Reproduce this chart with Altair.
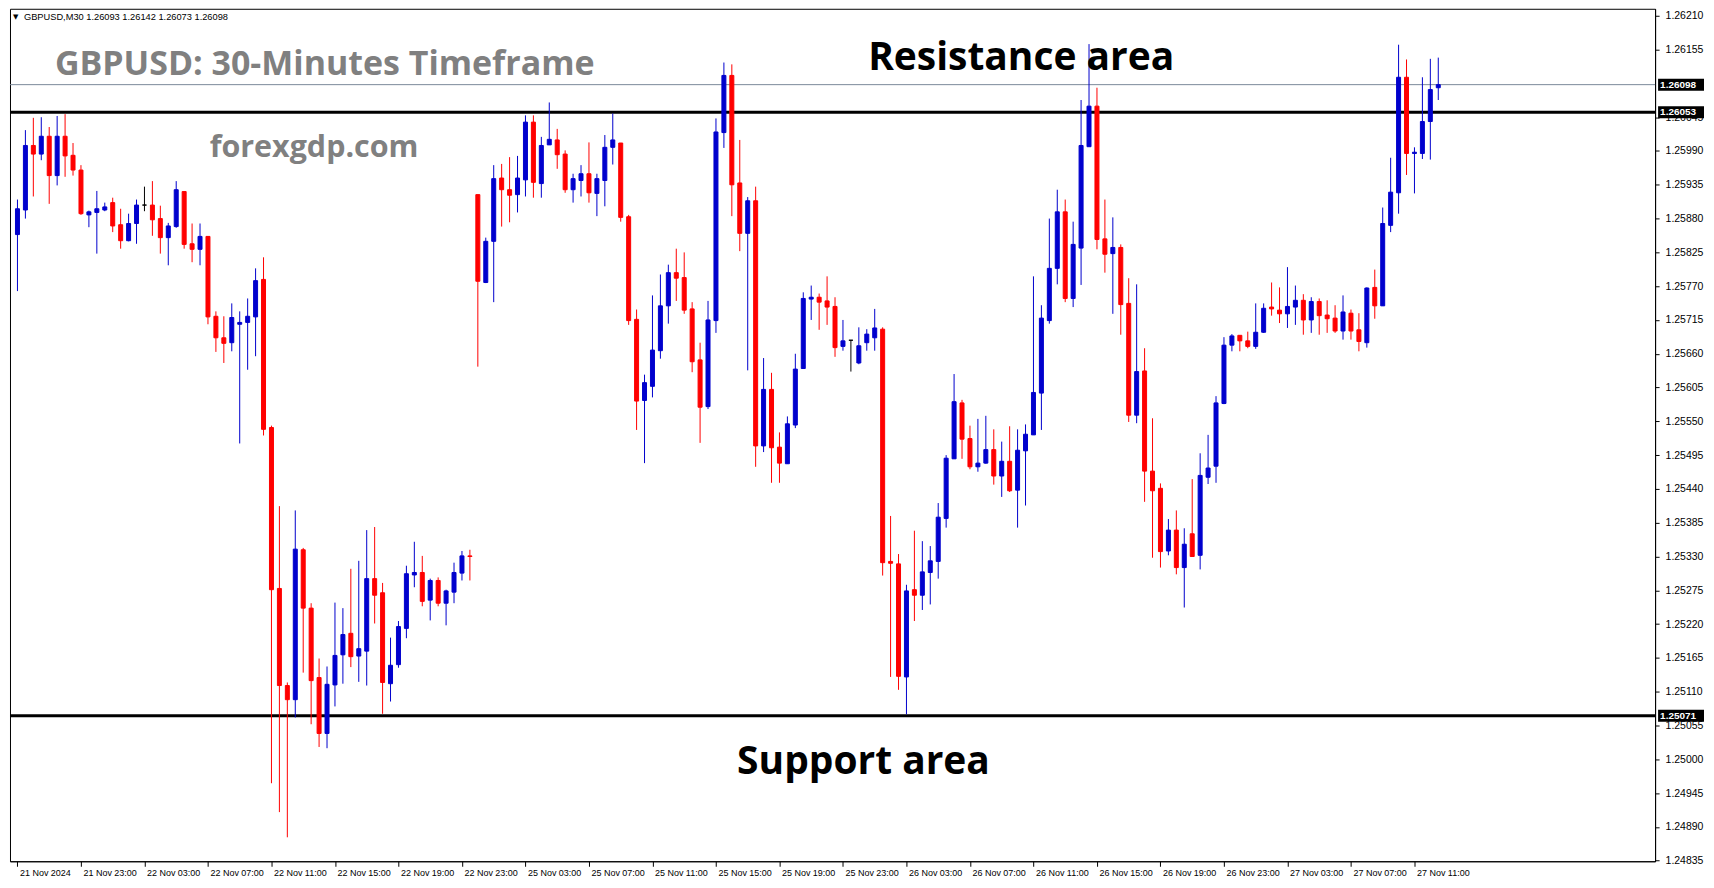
import altair as alt
import pandas as pd

# ---------------- data ----------------
opens = [
    1.25854, 1.25894, 1.25999, 1.25985, 1.26014, 1.25950, 1.26014, 1.25983, 1.25959, 1.25886,
    1.25890, 1.25894, 1.25906, 1.25870, 1.25844, 1.25872, 1.25902, 1.25902, 1.25880, 1.25849,
    1.25867, 1.25924, 1.25839, 1.25830, 1.25851, 1.25721, 1.25686, 1.25678, 1.25708, 1.25711,
    1.25720, 1.25781, 1.25540, 1.25278, 1.25120, 1.25097, 1.25341, 1.25246, 1.25133, 1.25042,
    1.25121, 1.25170, 1.25205, 1.25168, 1.25176, 1.25294, 1.25271, 1.25123, 1.25154, 1.25213,
    1.25300, 1.25304, 1.25259, 1.25291, 1.25254, 1.25272, 1.25303, 1.25331, 1.25919, 1.25776,
    1.25843, 1.25946, 1.25927, 1.25919, 1.25943, 1.26037, 1.25937, 1.26000, 1.26008, 1.25985,
    1.25927, 1.25942, 1.25953, 1.25921, 1.25942, 1.25996, 1.26003, 1.25883, 1.25716, 1.25584,
    1.25607, 1.25665, 1.25738, 1.25792, 1.25784, 1.25733, 1.25650, 1.25574, 1.25714, 1.26020,
    1.26113, 1.25938, 1.25856, 1.25909, 1.25510, 1.25602, 1.25508, 1.25481, 1.25544, 1.25636,
    1.25749, 1.25752, 1.25746, 1.25737, 1.25672, 1.25682, 1.25645, 1.25678, 1.25686, 1.25700,
    1.25322, 1.25318, 1.25134, 1.25276, 1.25267, 1.25304, 1.25322, 1.25392, 1.25489, 1.25580,
    1.25522, 1.25476, 1.25482, 1.25504, 1.25461, 1.25485, 1.25438, 1.25502, 1.25528, 1.25596,
    1.25714, 1.25799, 1.25891, 1.25750, 1.25832, 1.25997, 1.26063, 1.25847, 1.25823, 1.25833,
    1.25742, 1.25560, 1.25632, 1.25469, 1.25441, 1.25339, 1.25373, 1.25312, 1.25367, 1.25332,
    1.25459, 1.25477, 1.25579, 1.25674, 1.25690, 1.25681, 1.25672, 1.25695, 1.25736, 1.25731,
    1.25725, 1.25736, 1.25747, 1.25715, 1.25745, 1.25723, 1.25718, 1.25697, 1.25726, 1.25699,
    1.25678, 1.25768, 1.25738, 1.25869, 1.25922, 1.26110, 1.25986, 1.25986, 1.26038, 1.26093,
]
highs = [
    1.25911, 1.26024, 1.26044, 1.26045, 1.26029, 1.26047, 1.26050, 1.26003, 1.25967, 1.25893,
    1.25925, 1.25906, 1.25914, 1.25896, 1.25888, 1.25911, 1.25932, 1.25941, 1.25901, 1.25873,
    1.25941, 1.25924, 1.25872, 1.25872, 1.25851, 1.25729, 1.25721, 1.25742, 1.25729, 1.25750,
    1.25799, 1.25817, 1.25543, 1.25412, 1.25125, 1.25405, 1.25344, 1.25254, 1.25164, 1.25151,
    1.25255, 1.25246, 1.25310, 1.25323, 1.25373, 1.25378, 1.25287, 1.25198, 1.25225, 1.25315,
    1.25354, 1.25331, 1.25294, 1.25296, 1.25276, 1.25320, 1.25339, 1.25341, 1.25919, 1.25849,
    1.25967, 1.25969, 1.25980, 1.25982, 1.26048, 1.26048, 1.26013, 1.26069, 1.26026, 1.25991,
    1.25953, 1.25967, 1.26004, 1.25953, 1.26016, 1.26051, 1.26003, 1.25886, 1.25732, 1.25626,
    1.25755, 1.25789, 1.25805, 1.25831, 1.25825, 1.25744, 1.25678, 1.25746, 1.26043, 1.26134,
    1.26131, 1.26008, 1.25915, 1.25932, 1.25653, 1.25629, 1.25532, 1.25558, 1.25660, 1.25760,
    1.25771, 1.25758, 1.25786, 1.25752, 1.25715, 1.25682, 1.25703, 1.25700, 1.25733, 1.25703,
    1.25396, 1.25334, 1.25284, 1.25372, 1.25355, 1.25347, 1.25417, 1.25495, 1.25627, 1.25585,
    1.25543, 1.25554, 1.25559, 1.25537, 1.25517, 1.25542, 1.25537, 1.25545, 1.25786, 1.25739,
    1.25880, 1.25927, 1.25911, 1.25875, 1.26073, 1.26164, 1.26093, 1.25911, 1.25882, 1.25838,
    1.25783, 1.25773, 1.25669, 1.25555, 1.25449, 1.25391, 1.25405, 1.25376, 1.25456, 1.25498,
    1.25528, 1.25591, 1.25687, 1.25692, 1.25690, 1.25696, 1.25742, 1.25742, 1.25776, 1.25768,
    1.25801, 1.25771, 1.25757, 1.25752, 1.25750, 1.25747, 1.25739, 1.25755, 1.25732, 1.25726,
    1.25768, 1.25797, 1.25898, 1.25979, 1.26163, 1.26139, 1.25996, 1.26110, 1.26140, 1.26142,
]
lows = [
    1.25762, 1.25880, 1.25916, 1.25975, 1.25904, 1.25934, 1.25948, 1.25950, 1.25886, 1.25866,
    1.25823, 1.25892, 1.25858, 1.25831, 1.25843, 1.25839, 1.25892, 1.25852, 1.25823, 1.25804,
    1.25865, 1.25831, 1.25809, 1.25804, 1.25708, 1.25663, 1.25645, 1.25664, 1.25514, 1.25634,
    1.25656, 1.25527, 1.24961, 1.24914, 1.24873, 1.25068, 1.25141, 1.25057, 1.25020, 1.25018,
    1.25086, 1.25123, 1.25150, 1.25126, 1.25120, 1.25221, 1.25074, 1.25094, 1.25149, 1.25197,
    1.25280, 1.25249, 1.25226, 1.25249, 1.25218, 1.25254, 1.25291, 1.25291, 1.25639, 1.25775,
    1.25744, 1.25867, 1.25874, 1.25890, 1.25916, 1.25914, 1.25914, 1.26000, 1.25961, 1.25922,
    1.25906, 1.25916, 1.25906, 1.25884, 1.25900, 1.25968, 1.25875, 1.25707, 1.25536, 1.25482,
    1.25589, 1.25652, 1.25709, 1.25746, 1.25725, 1.25630, 1.25515, 1.25570, 1.25694, 1.25995,
    1.25884, 1.25827, 1.25633, 1.25476, 1.25500, 1.25450, 1.25450, 1.25481, 1.25539, 1.25636,
    1.25715, 1.25699, 1.25707, 1.25655, 1.25665, 1.25631, 1.25643, 1.25665, 1.25665, 1.25299,
    1.25134, 1.25113, 1.25073, 1.25225, 1.25243, 1.25252, 1.25294, 1.25377, 1.25489, 1.25489,
    1.25472, 1.25468, 1.25481, 1.25447, 1.25427, 1.25435, 1.25377, 1.25413, 1.25528, 1.25536,
    1.25709, 1.25773, 1.25744, 1.25736, 1.25772, 1.25997, 1.25830, 1.25792, 1.25725, 1.25691,
    1.25549, 1.25547, 1.25419, 1.25328, 1.25312, 1.25332, 1.25301, 1.25247, 1.25330, 1.25309,
    1.25448, 1.25450, 1.25578, 1.25664, 1.25664, 1.25669, 1.25668, 1.25694, 1.25722, 1.25710,
    1.25702, 1.25707, 1.25691, 1.25694, 1.25691, 1.25694, 1.25694, 1.25683, 1.25683, 1.25664,
    1.25670, 1.25717, 1.25738, 1.25858, 1.25888, 1.25951, 1.25921, 1.25977, 1.25976, 1.26073,
]
closes = [
    1.25896, 1.25999, 1.25985, 1.26014, 1.25950, 1.26014, 1.25982, 1.25959, 1.25888, 1.25891,
    1.25896, 1.25899, 1.25868, 1.25844, 1.25872, 1.25902, 1.25902, 1.25878, 1.25849, 1.25868,
    1.25927, 1.25838, 1.25830, 1.25851, 1.25720, 1.25686, 1.25677, 1.25719, 1.25711, 1.25721,
    1.25779, 1.25537, 1.25276, 1.25120, 1.25097, 1.25342, 1.25246, 1.25128, 1.25042, 1.25122,
    1.25169, 1.25203, 1.25167, 1.25180, 1.25294, 1.25267, 1.25125, 1.25153, 1.25216, 1.25302,
    1.25304, 1.25257, 1.25291, 1.25254, 1.25274, 1.25304, 1.25331, 1.25330, 1.25778, 1.25843,
    1.25945, 1.25927, 1.25918, 1.25946, 1.26037, 1.25939, 1.25999, 1.26009, 1.25984, 1.25927,
    1.25945, 1.25953, 1.25922, 1.25945, 1.25996, 1.26008, 1.25882, 1.25714, 1.25583, 1.25613,
    1.25666, 1.25738, 1.25792, 1.25783, 1.25731, 1.25647, 1.25573, 1.25715, 1.26021, 1.26113,
    1.25935, 1.25856, 1.25909, 1.25510, 1.25602, 1.25507, 1.25482, 1.25546, 1.25635, 1.25750,
    1.25752, 1.25744, 1.25736, 1.25670, 1.25681, 1.25682, 1.25673, 1.25692, 1.25702, 1.25320,
    1.25319, 1.25135, 1.25274, 1.25267, 1.25305, 1.25323, 1.25394, 1.25490, 1.25582, 1.25521,
    1.25476, 1.25482, 1.25504, 1.25461, 1.25485, 1.25437, 1.25503, 1.25529, 1.25597, 1.25718,
    1.25799, 1.25891, 1.25750, 1.25838, 1.25999, 1.26063, 1.25846, 1.25822, 1.25833, 1.25740,
    1.25560, 1.25631, 1.25469, 1.25437, 1.25338, 1.25373, 1.25312, 1.25350, 1.25330, 1.25462,
    1.25474, 1.25580, 1.25674, 1.25689, 1.25681, 1.25672, 1.25695, 1.25734, 1.25733, 1.25725,
    1.25737, 1.25747, 1.25715, 1.25745, 1.25722, 1.25717, 1.25697, 1.25728, 1.25697, 1.25680,
    1.25767, 1.25738, 1.25872, 1.25923, 1.26110, 1.25986, 1.25988, 1.26038, 1.26090, 1.26098,
]

time_label_bars = [0, 8, 16, 24, 32, 40, 48, 56, 64, 72, 80, 88, 96, 104, 112, 120,
                   128, 136, 144, 152, 160, 168, 176]
time_labels = ["21 Nov 2024", "21 Nov 23:00", "22 Nov 03:00", "22 Nov 07:00", "22 Nov 11:00",
               "22 Nov 15:00", "22 Nov 19:00", "22 Nov 23:00", "25 Nov 03:00", "25 Nov 07:00",
               "25 Nov 11:00", "25 Nov 15:00", "25 Nov 19:00", "25 Nov 23:00", "26 Nov 03:00",
               "26 Nov 07:00", "26 Nov 11:00", "26 Nov 15:00", "26 Nov 19:00", "26 Nov 23:00",
               "27 Nov 03:00", "27 Nov 07:00", "27 Nov 11:00"]

# price-axis tick labels (the one at 1.26100 is hidden under the bid tag, as in MT4)
price_ticks = [1.24835, 1.24890, 1.24945, 1.25000, 1.25055, 1.25110, 1.25165, 1.25220,
               1.25275, 1.25330, 1.25385, 1.25440, 1.25495, 1.25550, 1.25605, 1.25660,
               1.25715, 1.25770, 1.25825, 1.25880, 1.25935, 1.25990, 1.26045,
               1.26155, 1.26210]

bid_price = [1.26098]
level_prices = [1.26053, 1.25071]
tag_prices = [1.26098, 1.26053, 1.25071]

header_text = "GBPUSD,M30  1.26093 1.26142 1.26073 1.26098"
title_text = "GBPUSD: 30-Minutes Timeframe"
site_text = "forexgdp.com"
resistance_text = "Resistance area"
support_text = "Support area"

# ---------------- build tables ----------------
def direction(o, c):
    if o < c:
        return "up"
    if o > c:
        return "down"
    return "flat"

df = pd.DataFrame({
    "bar": list(range(len(opens))),
    "open": opens, "high": highs, "low": lows, "close": closes,
})
df["dir"] = [direction(o, c) for o, c in zip(opens, closes)]

tags = pd.DataFrame({"price": tag_prices, "label": [f"{p:.5f}" for p in tag_prices]})
bid_df = pd.DataFrame({"price": bid_price})
lvl_df = pd.DataFrame({"price": level_prices})

W, H = 1648, 854

xscale = alt.Scale(domain=[-0.3125, 205.6875], nice=False, zero=False)
yscale = alt.Scale(domain=[1.24834, 1.262215], nice=False, zero=False)

label_expr = "[" + ",".join("'" + t + "'" for t in time_labels) + "][round(datum.value / 8)]"
xaxis = alt.Axis(values=time_label_bars, labelExpr=label_expr, title=None, grid=False,
                 orient="bottom", labelAlign="left", labelOffset=2, labelPadding=2,
                 tickSize=5, labelFont="Liberation Sans", labelFontSize=9,
                 labelColor="black", tickColor="black", domainColor="black",
                 labelOverlap=False, labelFlush=False, labelBound=False)
yaxis = alt.Axis(values=price_ticks, format=".5f", title=None, grid=False, orient="right",
                 tickSize=4, labelPadding=6, labelFont="Liberation Sans", labelFontSize=10.5,
                 labelColor="black", tickColor="black", domainColor="black",
                 labelOverlap=False, labelFlush=False, labelBound=False)

def X(field="bar"):
    return alt.X(f"{field}:Q", scale=xscale, axis=xaxis)

def Y(field):
    return alt.Y(f"{field}:Q", scale=yscale, axis=yaxis)

col_scale = alt.Scale(domain=["up", "down", "flat"], range=["#0000CD", "#FF0000", "#000000"])

base = alt.Chart(df)
wicks = base.mark_rule(strokeWidth=1).encode(
    x=X(), y=Y("low"), y2="high:Q",
    color=alt.Color("dir:N", scale=col_scale, legend=None))
bodies = base.mark_bar(size=4, strokeWidth=1).encode(
    x=X(), y=Y("open"), y2="close:Q",
    color=alt.Color("dir:N", scale=col_scale, legend=None),
    stroke=alt.Stroke("dir:N", scale=col_scale, legend=None))

bid_line = alt.Chart(bid_df).mark_rule(color="#7B8A9A", strokeWidth=1).encode(y=Y("price"))
level_lines = alt.Chart(lvl_df).mark_rule(color="black", strokeWidth=3).encode(y=Y("price"))

tag_boxes = alt.Chart(tags).mark_tick(orient="horizontal", size=46, thickness=12,
                                      color="black", opacity=1, clip=False).encode(
    x=alt.value(W + 26), y=Y("price"))
tag_text = alt.Chart(tags).mark_text(align="left", baseline="middle", color="white",
                                     font="Liberation Sans", fontSize=10, fontWeight="bold").encode(
    x=alt.value(W + 5), y=Y("price"), text="label:N")

def note(text, x, y, size, color, font="Open Sans", weight="bold", align="left",
         baseline="alphabetic"):
    return alt.Chart(pd.DataFrame({"t": [text]})).mark_text(
        align=align, baseline=baseline, font=font, fontSize=size, fontWeight=weight,
        color=color).encode(x=alt.value(x), y=alt.value(y), text="t:N")

header_tri = note("▼", 3, 8, 7, "black", font="DejaVu Sans", weight="normal",
                  baseline="middle")
header = note(header_text, 14, 8, 9.3, "black", font="Liberation Sans", weight="normal",
              baseline="middle")
title = note(title_text, 45, 66, 34, "#808080")
site = note(site_text, 200, 148, 30.5, "#808080")
resist = note(resistance_text, 1013, 61, 39, "black", align="center")
support = note(support_text, 855, 767, 39, "black", align="center")

chart = alt.layer(
    bid_line, level_lines, wicks, bodies, tag_boxes, tag_text,
    header_tri, header, title, site, resist, support,
).properties(
    width=W, height=H,
    padding={"left": 0, "top": 0, "right": 2, "bottom": 2},
    background="white",
).configure_view(stroke="black", strokeWidth=1)

chart.save("out.html", embed_options={"renderer": "svg", "actions": False})
